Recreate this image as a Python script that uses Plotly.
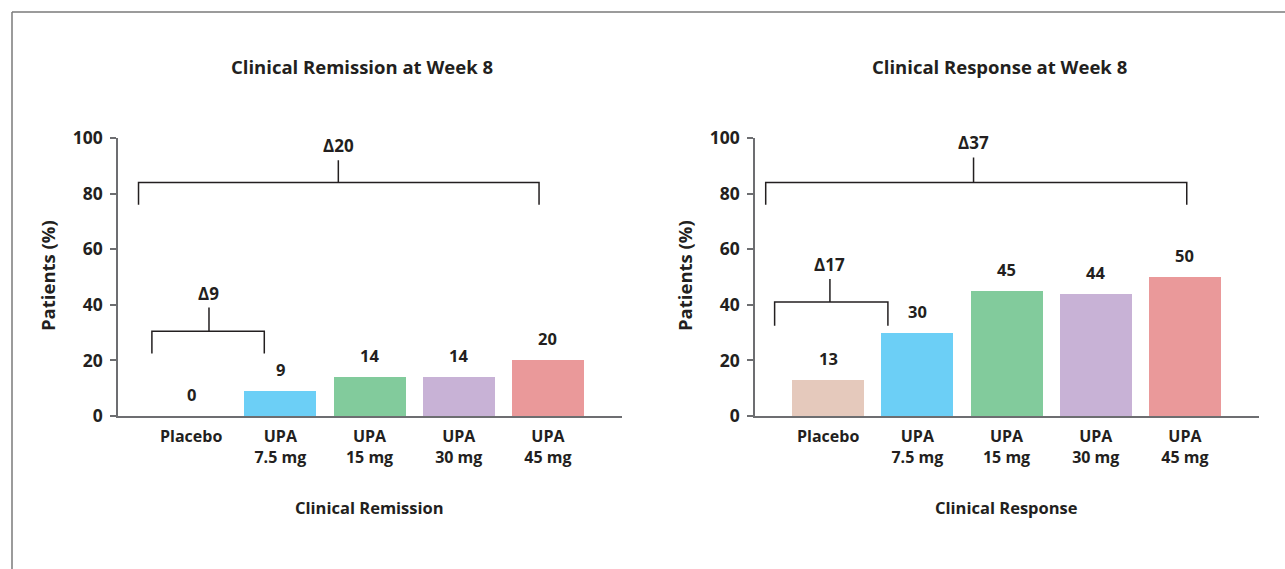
import plotly.graph_objects as go

# ---- data ----
categories = ["Placebo", "UPA<br>7.5 mg", "UPA<br>15 mg", "UPA<br>30 mg", "UPA<br>45 mg"]
remission = [0, 9, 14, 14, 20]
response = [13, 30, 45, 44, 50]
bar_colors = ["#e5c9bc", "#6ccff6", "#82cb9c", "#c8b2d6", "#ea999a"]
y_ticks = [0, 20, 40, 60, 80, 100]
panel_titles = ["Clinical Remission at Week 8", "Clinical Response at Week 8"]
x_titles = ["Clinical Remission", "Clinical Response"]
y_title = "Patients (%)"
# brackets: (x_left, x_right, x_center, y_legs, y_bar, y_top, label)
remission_brackets = [
    (-0.59, 3.90, 1.65, 76, 84, 92, "Δ20"),
    (-0.44, 0.82, 0.20, 22.5, 30.5, 39, "Δ9"),
]
response_brackets = [
    (-0.70, 4.02, 1.63, 76, 84, 93, "Δ37"),
    (-0.60, 0.67, 0.02, 32.5, 41, 49.3, "Δ17"),
]

W, H = 1285, 569
TXT = "#231f20"
FONT = "Open Sans"
AX = "#6d6e71"

fig = go.Figure()
xs = list(range(len(categories)))

panels = [
    (remission, remission_brackets, "x", "y", [118, 622]),
    (response, response_brackets, "x2", "y2", [755, 1259]),
]

y_bot, y_top_px = 416, 138
annotations = []
shapes = []

for i, (vals, brackets, xa, ya, (px0, px1)) in enumerate(panels):
    fig.add_trace(go.Bar(
        x=xs, y=vals, width=0.806,
        marker=dict(color=bar_colors, line=dict(width=0)),
        xaxis=xa, yaxis=ya, showlegend=False, hoverinfo="skip",
    ))
    for xv, v in zip(xs, vals):
        annotations.append(dict(
            x=xv, y=v, xref=xa, yref=ya, text=f"<b>{v}</b>", showarrow=False,
            yanchor="bottom", yshift=8, font=dict(family=FONT, size=16.5, color=TXT)))
    for (xl, xr, xc, yl, yb, yt, lab) in brackets:
        shapes.append(dict(
            type="path", xref=xa, yref=ya,
            path=f"M {xl},{yl} L {xl},{yb} L {xr},{yb} L {xr},{yl} M {xc},{yb} L {xc},{yt}",
            line=dict(color="#231f20", width=1.5), layer="above"))
        annotations.append(dict(
            x=xc, y=yt, xref=xa, yref=ya, text=f"<b>{lab}</b>", showarrow=False,
            yanchor="bottom", yshift=1, font=dict(family=FONT, size=17, color=TXT)))
    # panel title
    annotations.append(dict(
        x=(px0 + px1) / 2 / W - 8 / W, y=1 - 66 / H, xref="paper", yref="paper",
        text=f"<b>{panel_titles[i]}</b>", showarrow=False, xanchor="center", yanchor="middle",
        font=dict(family=FONT, size=18.5, color=TXT)))
    # x title
    annotations.append(dict(
        x=(px0 + px1) / 2 / W - 1 / W, y=1 - 507 / H, xref="paper", yref="paper",
        text=f"<b>{x_titles[i]}</b>", showarrow=False, xanchor="center", yanchor="middle",
        font=dict(family=FONT, size=16.5, color=TXT)))
    # y title
    annotations.append(dict(
        x=(px0 - 71) / W, y=1 - 276 / H, xref="paper", yref="paper",
        text=f"<b>{y_title}</b>", showarrow=False, textangle=-90,
        xanchor="center", yanchor="middle",
        font=dict(family=FONT, size=18.5, color=TXT)))

# frame
shapes.append(dict(type="line", xref="paper", yref="paper",
                   x0=12 / W, x1=1.0, y0=1 - 12 / H, y1=1 - 12 / H,
                   line=dict(color="#7a7a7a", width=1.5)))
shapes.append(dict(type="line", xref="paper", yref="paper",
                   x0=12 / W, x1=12 / W, y0=0, y1=1 - 12 / H,
                   line=dict(color="#7a7a7a", width=1.5)))

ydom = [1 - y_bot / H, 1 - y_top_px / H]
xaxis_common = dict(
    range=[-0.82, 4.83], tickvals=xs, ticktext=[f"<b>{c}</b>" for c in categories],
    showline=True, linecolor=AX, linewidth=1.5, ticks="", showgrid=False, zeroline=False,
    tickfont=dict(family=FONT, size=16, color=TXT), ticklabelstandoff=5, fixedrange=True,
    automargin=False,
)
yaxis_common = dict(
    range=[0, 100], tickvals=y_ticks, ticktext=[f"<b>{t}</b>" for t in y_ticks],
    showline=True, linecolor=AX, linewidth=1.5, ticks="outside", ticklen=6,
    tickcolor=AX, tickwidth=1.5, showgrid=False, zeroline=False,
    tickfont=dict(family=FONT, size=17.5, color=TXT), fixedrange=True,
    automargin=False, ticklabelstandoff=4,
)

fig.update_layout(
    width=W, height=H, margin=dict(l=0, r=0, t=0, b=0, autoexpand=False),
    paper_bgcolor="white", plot_bgcolor="white",
    xaxis=dict(domain=[118 / W, 622 / W], anchor="y", **xaxis_common),
    yaxis=dict(domain=ydom, anchor="x", **yaxis_common),
    xaxis2=dict(domain=[755 / W, 1259 / W], anchor="y2", **xaxis_common),
    yaxis2=dict(domain=ydom, anchor="x2", **yaxis_common),
    annotations=annotations, shapes=shapes, bargap=0,
)

fig.write_html(
    "out.html",
    config={"displayModeBar": False},
    post_script="document.body.style.margin='0';document.body.style.overflow='hidden';",
)
